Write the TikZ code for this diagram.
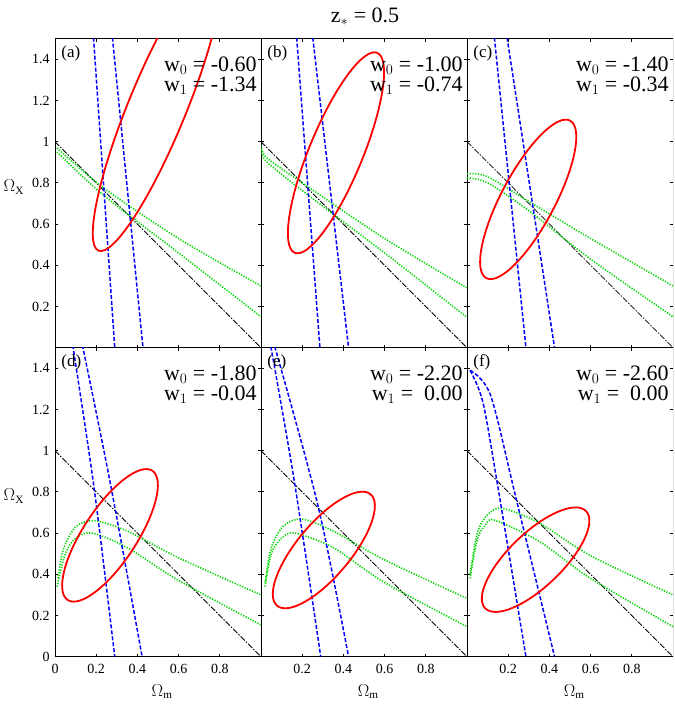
\documentclass[tikz,border=0pt]{standalone}
\usepackage{fontspec}
\setmainfont{Liberation Serif}
\begin{document}
\begin{tikzpicture}[x=1pt,y=1pt,
  frame/.style={line width=0.9pt},
  ell/.style={red,line width=1.8pt},
  bl/.style={blue,line width=1.5pt,dash pattern=on 4pt off 2pt},
  gr/.style={green!85!black,line width=1.6pt,dash pattern=on 1.2pt off 1.5pt},
  bk/.style={black,line width=0.8pt,dash pattern=on 6pt off 1.5pt on 1.5pt off 1.5pt},
  wlab/.style={anchor=east,font=\fontsize{22}{23}\selectfont,inner sep=0pt},
  plab/.style={anchor=west,font=\fontsize{17}{18}\selectfont,inner sep=0pt},
  tick/.style={anchor=east,font=\fontsize{14}{15}\selectfont,inner sep=0pt},
  xtick/.style={anchor=north,font=\fontsize{14}{15}\selectfont,inner sep=0pt},
  axl/.style={font=\fontsize{16}{17}\selectfont,inner sep=0pt}]
\useasboundingbox (0,0) rectangle (674,706);
\newcommand\myframe{%
  \draw[frame] (0,0) rectangle (1,1.5);
  \foreach \t in {0.2,0.4,0.6,0.8}{\draw[frame] (\t,0) -- ++(0,0.015) (\t,1.5) -- ++(0,-0.015);}
  \foreach \t in {0.2,0.4,...,1.41}{\draw[frame] (0,\t) -- ++(0.015,0) (1,\t) -- ++(-0.015,0);}
  \draw[bk] (0,1) -- (1,0);}
\node[font=\fontsize{22}{23}\selectfont] (title) at (365,689) {z$_*$ = 0.5};
% ---------- panel a
\begin{scope}[shift={(55,358.3)},x=206pt,y=206pt]
\begin{scope}\clip (0,0) rectangle (1,1.5);
\myframe
\draw[gr] plot[smooth] coordinates {(0.01,0.97)(0.23,0.78)(0.6,0.53)(1,0.30)};
\draw[gr] plot[smooth] coordinates {(0.01,0.95)(0.23,0.745)(0.6,0.46)(1,0.15)};
\draw[bl] (0.185,1.534) -- (0.29,0);
\draw[bl] (0.276,1.534) -- (0.427,0);
\draw[ell,shift={(0.496,1.165)},rotate=67.7] (0,0) ellipse [x radius=0.75,y radius=0.14];
\end{scope}
\node[plab] (la) at (0.03,1.43) {(a)};
\node[wlab] (wa0) at (0.98,1.37) {w$_0$ = -0.60};
\node[wlab] (wa1) at (0.98,1.27) {w$_1$ = -1.34};
\foreach \t/\s in {0.2/0.2,0.4/0.4,0.6/0.6,0.8/0.8,1/1,1.2/1.2,1.4/1.4}{\node[tick] at (-0.025,\t) {\s};}
\node[axl] (oxa) at (-0.2,0.78) {$\Omega_{\rm X}$};
\end{scope}
% ---------- panel b
\begin{scope}[shift={(261,358.3)},x=206pt,y=206pt]
\begin{scope}\clip (0,0) rectangle (1,1.5);
\myframe
\draw[gr] plot[smooth] coordinates {(0.0,0.98)(0.03,0.92)(0.23,0.78)(0.6,0.53)(1,0.29)};
\draw[gr] plot[smooth] coordinates {(0.0,0.96)(0.03,0.90)(0.23,0.74)(0.6,0.46)(1,0.147)};
\draw[bl] (0.171,1.534) -- (0.286,0);
\draw[bl] (0.248,1.534) -- (0.425,0);
\draw[ell,shift={(0.364,0.946)},rotate=67.6] (0,0) ellipse [x radius=0.525,y radius=0.13];
\end{scope}
\node[plab] (lb) at (0.03,1.43) {(b)};
\node[wlab] (wb0) at (0.98,1.37) {w$_0$ = -1.00};
\node[wlab] (wb1) at (0.98,1.27) {w$_1$ = -0.74};
\end{scope}
% ---------- panel c
\begin{scope}[shift={(467,358.3)},x=206pt,y=206pt]
\begin{scope}\clip (0,0) rectangle (1,1.5);
\myframe
\draw[gr] plot[smooth] coordinates {(0,0.845)(0.1,0.83)(0.3,0.71)(0.6,0.53)(1,0.30)};
\draw[gr] plot[smooth] coordinates {(0,0.825)(0.1,0.80)(0.3,0.665)(0.6,0.43)(1,0.15)};
\draw[bl] (0.13,1.534) -- (0.286,0);
\draw[bl] (0.19,1.534) -- (0.425,0);
\draw[ell,shift={(0.297,0.72)},rotate=62] (0,0) ellipse [x radius=0.433,y radius=0.13];
\end{scope}
\node[plab] (lc) at (0.03,1.43) {(c)};
\node[wlab] (wc0) at (0.98,1.37) {w$_0$ = -1.40};
\node[wlab] (wc1) at (0.98,1.27) {w$_1$ = -0.34};
\end{scope}
% ---------- panel d
\begin{scope}[shift={(55,49.3)},x=206pt,y=206pt]
\begin{scope}\clip (0,0) rectangle (1,1.5);
\myframe
\draw[gr] plot[smooth] coordinates {(0.015,0.38)(0.04,0.52)(0.1,0.63)(0.19,0.66)(0.35,0.61)(0.6,0.48)(1,0.30)};
\draw[gr] plot[smooth] coordinates {(0.01,0.34)(0.05,0.5)(0.1,0.575)(0.18,0.60)(0.35,0.53)(0.6,0.37)(1,0.154)};
\draw[bl] plot[smooth] coordinates {(0.086,1.513)(0.19,0.817)(0.29,0)};
\draw[bl] plot[smooth] coordinates {(0.133,1.513)(0.267,0.85)(0.423,0)};
\draw[ell,shift={(0.267,0.589)},rotate=56.8] (0,0) ellipse [x radius=0.375,y radius=0.13];
\end{scope}
\node[plab] (ld) at (0.03,1.43) {(d)};
\node[wlab] (wd0) at (0.98,1.37) {w$_0$ = -1.80};
\node[wlab] (wd1) at (0.98,1.27) {w$_1$ = -0.04};
\foreach \t/\s in {0/0,0.2/0.2,0.4/0.4,0.6/0.6,0.8/0.8,1/1,1.2/1.2,1.4/1.4}{\node[tick] at (-0.025,\t) {\s};}
\foreach \t in {0,0.2,0.4,0.6,0.8}{\node[xtick] at (\t,-0.035) {\t};}
\node[axl] (oxd) at (-0.2,0.78) {$\Omega_{\rm X}$};
\node[axl] (omd) at (0.52,-0.17) {$\Omega_{\rm m}$};
\end{scope}
% ---------- panel e
\begin{scope}[shift={(261,49.3)},x=206pt,y=206pt]
\begin{scope}\clip (0,0) rectangle (1,1.5);
\myframe
\draw[gr] plot[smooth] coordinates {(0.02,0.36)(0.05,0.53)(0.11,0.635)(0.2,0.668)(0.35,0.61)(0.6,0.47)(1,0.283)};
\draw[gr] plot[smooth] coordinates {(0.02,0.34)(0.05,0.5)(0.1,0.575)(0.162,0.60)(0.35,0.53)(0.6,0.36)(1,0.146)};
\draw[bl] plot[smooth] coordinates {(0.048,1.505)(0.162,0.85)(0.29,0)};
\draw[bl] plot[smooth] coordinates {(0.067,1.505)(0.276,0.736)(0.425,0)};
\draw[ell,shift={(0.305,0.518)},rotate=50] (0,0) ellipse [x radius=0.353,y radius=0.13];
\end{scope}
\node[plab] (le) at (0.03,1.43) {(e)};
\node[wlab] (we0) at (0.98,1.37) {w$_0$ = -2.20};
\node[wlab] (we1) at (0.98,1.27) {w$_1$ = \ 0.00};
\foreach \t in {0.2,0.4,0.6,0.8}{\node[xtick] at (\t,-0.035) {\t};}
\node[axl] (ome) at (0.52,-0.17) {$\Omega_{\rm m}$};
\end{scope}
% ---------- panel f
\begin{scope}[shift={(467,49.3)},x=206pt,y=206pt]
\begin{scope}\clip (0,0) rectangle (1,1.5);
\myframe
\draw[gr] plot[smooth] coordinates {(0.015,0.40)(0.05,0.6)(0.1,0.69)(0.171,0.72)(0.35,0.65)(0.6,0.49)(1,0.30)};
\draw[gr] plot[smooth] coordinates {(0.015,0.38)(0.05,0.57)(0.09,0.64)(0.133,0.663)(0.35,0.56)(0.6,0.38)(1,0.146)};
\draw[bl] plot[smooth] coordinates {(0.015,1.39)(0.076,1.24)(0.143,0.866)(0.286,0)};
\draw[bl] plot[smooth] coordinates {(0.015,1.39)(0.114,1.27)(0.238,0.769)(0.425,0)};
\draw[ell,shift={(0.333,0.471)},rotate=43.9] (0,0) ellipse [x radius=0.34,y radius=0.13];
\end{scope}
\node[plab] (lf) at (0.03,1.43) {(f)};
\node[wlab] (wf0) at (0.98,1.37) {w$_0$ = -2.60};
\node[wlab] (wf1) at (0.98,1.27) {w$_1$ = \ 0.00};
\foreach \t in {0.2,0.4,0.6,0.8}{\node[xtick] at (\t,-0.035) {\t};}
\node[axl] (omf) at (0.52,-0.17) {$\Omega_{\rm m}$};
\end{scope}
\end{tikzpicture}
\end{document}
